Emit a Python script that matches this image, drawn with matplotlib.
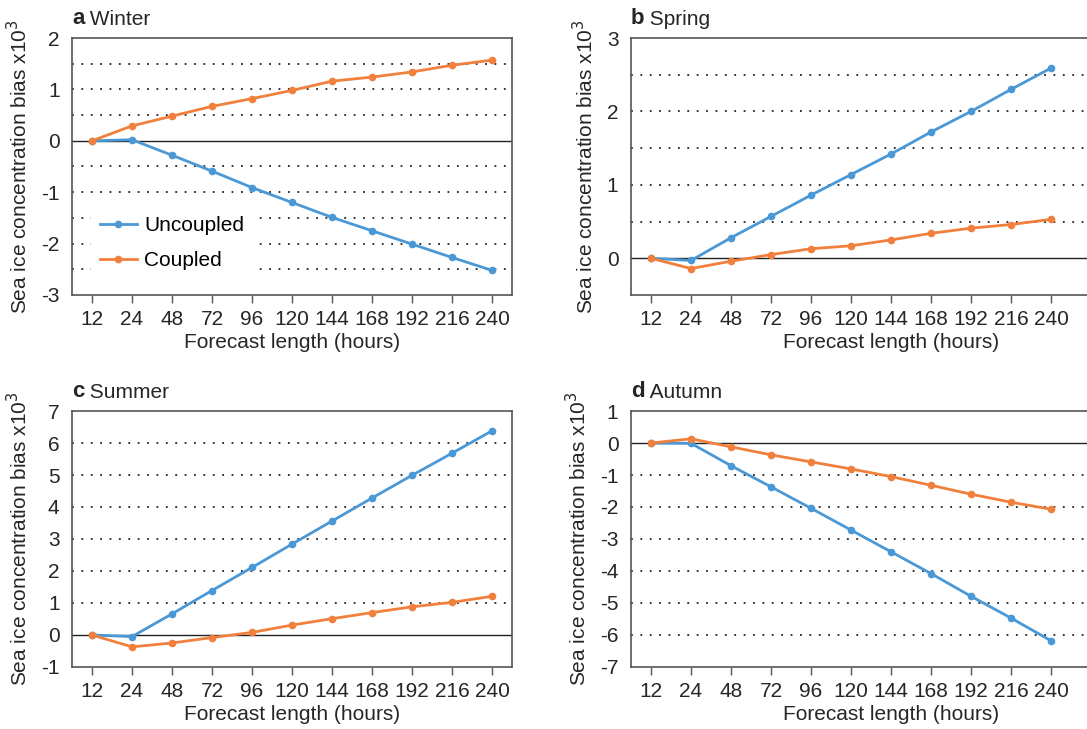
import matplotlib
matplotlib.use("Agg")
import matplotlib.pyplot as plt

hours = ["12", "24", "48", "72", "96", "120", "144", "168", "192", "216", "240"]

winter_uncoupled = [0, 0.02, -0.28, -0.59, -0.91, -1.20, -1.49, -1.75, -2.01, -2.27, -2.52]
winter_coupled = [0, 0.29, 0.48, 0.67, 0.82, 0.98, 1.16, 1.24, 1.34, 1.47, 1.57]
spring_uncoupled = [0, -0.03, 0.28, 0.57, 0.86, 1.14, 1.42, 1.72, 2.00, 2.30, 2.59]
spring_coupled = [0, -0.14, -0.04, 0.05, 0.13, 0.17, 0.25, 0.34, 0.41, 0.46, 0.53]
summer_uncoupled = [0, -0.05, 0.66, 1.39, 2.11, 2.84, 3.56, 4.28, 4.99, 5.68, 6.38]
summer_coupled = [0, -0.37, -0.25, -0.08, 0.08, 0.31, 0.51, 0.70, 0.88, 1.02, 1.21]
autumn_uncoupled = [0, -0.01, -0.71, -1.37, -2.04, -2.72, -3.40, -4.08, -4.79, -5.47, -6.18]
autumn_coupled = [0, 0.13, -0.12, -0.37, -0.59, -0.81, -1.05, -1.32, -1.60, -1.85, -2.07]

panels = [
    ("a", "Winter", winter_uncoupled, winter_coupled, (-3, 2), [-3, -2, -1, 0, 1, 2],
     [-2.5, -2, -1.5, -1, -0.5, 0.5, 1, 1.5]),
    ("b", "Spring", spring_uncoupled, spring_coupled, (-0.5, 3), [0, 1, 2, 3],
     [0.5, 1, 1.5, 2, 2.5]),
    ("c", "Summer", summer_uncoupled, summer_coupled, (-1, 7), [-1, 0, 1, 2, 3, 4, 5, 6, 7],
     [1, 2, 3, 4, 5, 6]),
    ("d", "Autumn", autumn_uncoupled, autumn_coupled, (-7, 1), [-7, -6, -5, -4, -3, -2, -1, 0, 1],
     [-6, -5, -4, -3, -2, -1]),
]

plt.rcParams['font.family'] = ['Liberation Sans', 'DejaVu Sans']

W, H = 1087, 729
fig = plt.figure(figsize=(W / 100, H / 100), dpi=100)

BLUE = "#4A98D6"
ORANGE = "#F0803C"
SPINE = "#555555"
TXT = "#262626"
FS = 15

# pixel boxes: left, top, right(px), bottom, xmax
step = 40.0
boxes = [
    (72, 38, 512, 295, 10.5),
    (631, 38, 631 + 13 * step, 295, 12.5),
    (72, 411, 512, 667, 10.5),
    (631, 411, 631 + 13 * step, 667, 12.5),
]

x = list(range(len(hours)))
for (letter, name, unc, cou, ylim, yticks, grid), (l, t, r, b, xmax) in zip(panels, boxes):
    ax = fig.add_axes([l / W, 1 - b / H, (r - l) / W, (b - t) / H])
    ax.set_xlim(-0.5, xmax)
    ax.set_ylim(*ylim)
    for g in grid:
        ax.axhline(g, color="#222222", lw=1.3, ls=(0, (1, 4.2)), zorder=1)
    ax.axhline(0, color="#222222", lw=1.0, zorder=2)
    ax.plot(x, unc, color=BLUE, lw=2.0, marker="o", ms=4.5, label="Uncoupled", zorder=3)
    ax.plot(x, cou, color=ORANGE, lw=2.0, marker="o", ms=4.5, label="Coupled", zorder=3)
    ax.set_xticks(x)
    ax.set_xticklabels(hours)
    ax.set_yticks(yticks)
    ax.set_yticklabels([str(v) for v in yticks])
    ax.tick_params(axis="x", direction="out", length=6, width=1, color=SPINE,
                   labelsize=FS, pad=5, labelcolor=TXT)
    ax.tick_params(axis="y", length=0, labelsize=FS, pad=9, labelcolor=TXT)
    for s in ax.spines.values():
        s.set_color(SPINE)
        s.set_linewidth(1.2)
    ax.set_xlabel("Forecast length (hours)", fontsize=FS, color=TXT, labelpad=3)
    ax.set_ylabel("Sea ice concentration bias x10$^3$", fontsize=FS, color=TXT, labelpad=7)
    tl = ax.text(0, 1.035, letter, transform=ax.transAxes, fontsize=16, fontweight="bold",
                 ha="left", va="bottom", color=TXT)
    ax.annotate(" " + name, xy=(1, 0), xycoords=tl, fontsize=FS, ha="left", va="bottom",
                color=TXT)
    if letter == "a":
        leg = ax.legend(loc="lower left", bbox_to_anchor=(0.02, 0.025), frameon=True,
                        fontsize=FS, handlelength=1.8, labelspacing=0.75, borderpad=0.4,
                        handletextpad=0.35)
        leg.get_frame().set_edgecolor("none")
        leg.get_frame().set_facecolor("white")
        leg.get_frame().set_alpha(1)
        leg.set_zorder(5)

fig.savefig("out.png", dpi=100)
